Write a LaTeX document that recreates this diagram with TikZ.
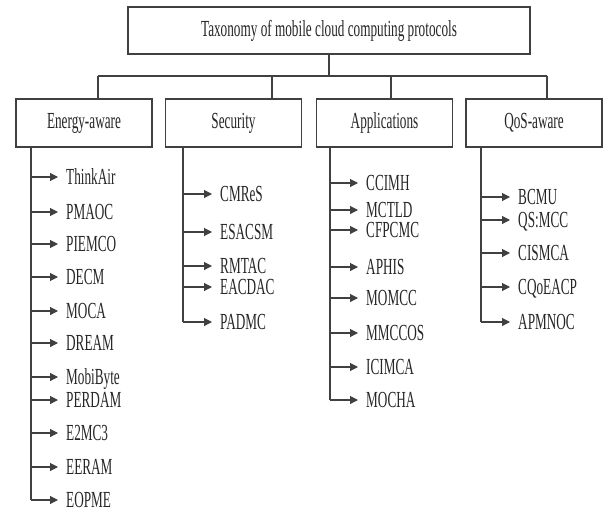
\documentclass[tikz,border=0pt]{standalone}
\usepackage{fontspec}
\setmainfont{Liberation Serif}[FakeStretch=0.575]
\usetikzlibrary{arrows.meta}
\tikzset{>=Latex}
\tikzset{
  rootbox/.style={draw=black!75, line width=1.1pt, fill=white, minimum width=402pt, minimum height=47pt, inner sep=0pt},
  catbox/.style={draw=black!75, line width=1.1pt, fill=white, minimum width=136pt, minimum height=48pt, inner sep=0pt},
  leaf/.style={anchor=west, inner xsep=8pt, inner ysep=0pt, text height=15.2pt, text depth=0pt},
  link/.style={draw=black!75, line width=1.1pt},
  arrow/.style={-{Triangle[length=8pt,width=8pt]}, draw=black!75, line width=1.1pt},
}

\begin{document}
\begin{tikzpicture}[x=1pt, y=-1pt, font=\fontsize{23}{27}\selectfont, text=black!85]
    \useasboundingbox (0,0) rectangle (603,511);

    % top of the tree
    \node[rootbox] (root) at (329,30.5) {Taxonomy of mobile cloud computing protocols};
    \coordinate (bus) at (329,76);
    \node[catbox] (energy) at (84,123) {Energy-aware};
    \node[catbox] (security) at (233.5,123) {Security};
    \node[catbox] (apps) at (384.5,123) {Applications};
    \node[catbox] (qos) at (534,123) {QoS-aware};
    \coordinate (d1) at (98,76);
    \coordinate (d2) at (272,76);
    \coordinate (d3) at (391,76);
    \coordinate (d4) at (547,76);

    \draw[link] (root) -- (bus);
    \draw[link] (d1) -- (d4);
    \draw[link] (d1) -- (d1 |- energy.north);
    \draw[link] (d2) -- (d2 |- security.north);
    \draw[link] (d3) -- (d3 |- apps.north);
    \draw[link] (d4) -- (d4 |- qos.north);

    % energy-aware
    \coordinate (etr) at (31,147);
    \node[leaf] (thinkair) at (58,177) {ThinkAir};
    \node[leaf] (pmaoc) at (58,212) {PMAOC};
    \node[leaf] (piemco) at (58,244) {PIEMCO};
    \node[leaf] (decm) at (58,277) {DECM};
    \node[leaf] (moca) at (58,311) {MOCA};
    \node[leaf] (dream) at (58,343) {DREAM};
    \node[leaf] (mobibyte) at (58,377) {MobiByte};
    \node[leaf] (perdam) at (58,400) {PERDAM};
    \node[leaf] (emc) at (58,433) {E2MC3};
    \node[leaf] (eeram) at (58,467) {EERAM};
    \node[leaf] (eopme) at (58,500) {EOPME};
    \draw[link] (etr |- energy.south) -- (etr |- eopme);
    \draw[arrow] (etr |- thinkair) -- (thinkair);
    \draw[arrow] (etr |- pmaoc) -- (pmaoc);
    \draw[arrow] (etr |- piemco) -- (piemco);
    \draw[arrow] (etr |- decm) -- (decm);
    \draw[arrow] (etr |- moca) -- (moca);
    \draw[arrow] (etr |- dream) -- (dream);
    \draw[arrow] (etr |- mobibyte) -- (mobibyte);
    \draw[arrow] (etr |- perdam) -- (perdam);
    \draw[arrow] (etr |- emc) -- (emc);
    \draw[arrow] (etr |- eeram) -- (eeram);
    \draw[arrow] (etr |- eopme) -- (eopme);

    % security
    \coordinate (str) at (183,147);
    \node[leaf] (cmres) at (212,194) {CMReS};
    \node[leaf] (esacsm) at (212,232) {ESACSM};
    \node[leaf] (rmtac) at (212,266) {RMTAC};
    \node[leaf] (eacdac) at (212,287) {EACDAC};
    \node[leaf] (padmc) at (212,322) {PADMC};
    \draw[link] (str |- security.south) -- (str |- padmc);
    \draw[arrow] (str |- cmres) -- (cmres);
    \draw[arrow] (str |- esacsm) -- (esacsm);
    \draw[arrow] (str |- rmtac) -- (rmtac);
    \draw[arrow] (str |- eacdac) -- (eacdac);
    \draw[arrow] (str |- padmc) -- (padmc);

    % applications
    \coordinate (atr) at (330,147);
    \node[leaf] (ccimh) at (358,183) {CCIMH};
    \node[leaf] (mctld) at (358,210) {MCTLD};
    \node[leaf] (cfpcmc) at (358,230) {CFPCMC};
    \node[leaf] (aphis) at (358,267) {APHIS};
    \node[leaf] (momcc) at (358,298) {MOMCC};
    \node[leaf] (mmccos) at (358,333) {MMCCOS};
    \node[leaf] (icimca) at (358,367) {ICIMCA};
    \node[leaf] (mocha) at (358,400) {MOCHA};
    \draw[link] (atr |- apps.south) -- (atr |- mocha);
    \draw[arrow] (atr |- ccimh) -- (ccimh);
    \draw[arrow] (atr |- mctld) -- (mctld);
    \draw[arrow] (atr |- cfpcmc) -- (cfpcmc);
    \draw[arrow] (atr |- aphis) -- (aphis);
    \draw[arrow] (atr |- momcc) -- (momcc);
    \draw[arrow] (atr |- mmccos) -- (mmccos);
    \draw[arrow] (atr |- icimca) -- (icimca);
    \draw[arrow] (atr |- mocha) -- (mocha);

    % qos-aware
    \coordinate (qtr) at (481,147);
    \node[leaf] (bcmu) at (510,197) {BCMU};
    \node[leaf] (qsmcc) at (510,220) {QS:MCC};
    \node[leaf] (cismca) at (510,253) {CISMCA};
    \node[leaf] (cqoeacp) at (510,287) {CQoEACP};
    \node[leaf] (apmnoc) at (510,322) {APMNOC};
    \draw[link] (qtr |- qos.south) -- (qtr |- apmnoc);
    \draw[arrow] (qtr |- bcmu) -- (bcmu);
    \draw[arrow] (qtr |- qsmcc) -- (qsmcc);
    \draw[arrow] (qtr |- cismca) -- (cismca);
    \draw[arrow] (qtr |- cqoeacp) -- (cqoeacp);
    \draw[arrow] (qtr |- apmnoc) -- (apmnoc);
\end{tikzpicture}
\end{document}
